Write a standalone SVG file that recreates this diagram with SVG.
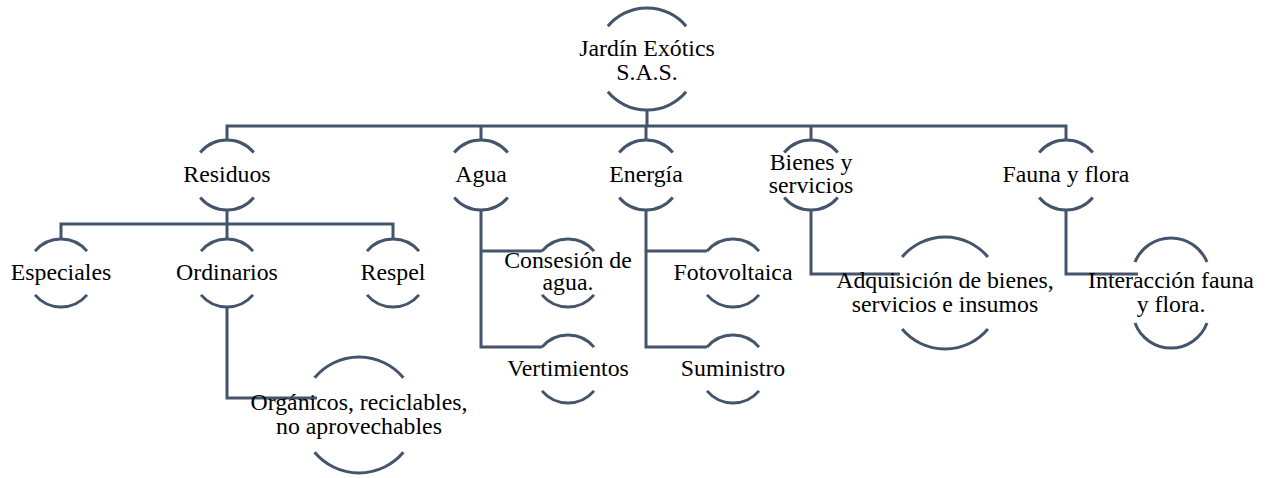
<svg xmlns="http://www.w3.org/2000/svg" width="1267" height="478" viewBox="0 0 1267 478">
<style>
.c{fill:none;stroke:#44546A;stroke-width:3;stroke-linejoin:miter;stroke-linecap:butt}
.a{fill:none;stroke:#44546A;stroke-width:3;stroke-linecap:butt}
.t{font-family:"Liberation Serif",Tinos,"Times New Roman",Times,"DejaVu Serif","Noto Serif",serif;font-size:23.8px;fill:#000;text-anchor:middle}
</style>
<rect width="1267" height="478" fill="#fff"/>
<g id="connectors">
<path class="c" d="M647 110V126M227 140V126H1066V140M481 126V140M646 126V140M811 126V140"/>
<path class="c" d="M227 210V224M61 239V224H393V239M227 224V239"/>
<path class="c" d="M227 307V398H317"/>
<path class="c" d="M481 210V347H542M481 251H542"/>
<path class="c" d="M646 210V347H707M646 251H707"/>
<path class="c" d="M811 210V274H900"/>
<path class="c" d="M1066 210V274H1138"/>
</g>
<g id="root">
<path class="a" d="M607.9 26.2A51 51 0 0 1 686.1 26.2M607.9 91.8A51 51 0 0 0 686.1 91.8"/>
<text class="t" x="647" y="56">Jardín Exótics</text>
<text class="t" x="647" y="80">S.A.S.</text>
</g>
<g id="residuos">
<path class="a" d="M200.2 152.5A35 35 0 0 1 253.8 152.5M200.2 197.5A35 35 0 0 0 253.8 197.5"/>
<text class="t" x="227" y="182">Residuos</text>
</g>
<g id="agua">
<path class="a" d="M454.2 152.5A35 35 0 0 1 507.8 152.5M454.2 197.5A35 35 0 0 0 507.8 197.5"/>
<text class="t" x="481" y="182">Agua</text>
</g>
<g id="energia">
<path class="a" d="M619.2 152.5A35 35 0 0 1 672.8 152.5M619.2 197.5A35 35 0 0 0 672.8 197.5"/>
<text class="t" x="646" y="182">Energía</text>
</g>
<g id="bienes">
<path class="a" d="M784.2 152.5A35 35 0 0 1 837.8 152.5M784.2 197.5A35 35 0 0 0 837.8 197.5"/>
<text class="t" x="811" y="170">Bienes y</text>
<text class="t" x="811" y="193">servicios</text>
</g>
<g id="fauna">
<path class="a" d="M1039.2 152.5A35 35 0 0 1 1092.8 152.5M1039.2 197.5A35 35 0 0 0 1092.8 197.5"/>
<text class="t" x="1066" y="182">Fauna y flora</text>
</g>
<g id="especiales">
<path class="a" d="M35 251.1A34 34 0 0 1 87 251.1M35 294.9A34 34 0 0 0 87 294.9"/>
<text class="t" x="61" y="280">Especiales</text>
</g>
<g id="ordinarios">
<path class="a" d="M201 251.1A34 34 0 0 1 253 251.1M201 294.9A34 34 0 0 0 253 294.9"/>
<text class="t" x="227" y="280">Ordinarios</text>
</g>
<g id="respel">
<path class="a" d="M367 251.1A34 34 0 0 1 419 251.1M367 294.9A34 34 0 0 0 419 294.9"/>
<text class="t" x="393" y="280">Respel</text>
</g>
<g id="organicos">
<path class="a" d="M314.6 377.7A58 58 0 0 1 403.4 377.7M314.6 452.3A58 58 0 0 0 403.4 452.3"/>
<text class="t" x="359" y="410">Orgánicos, reciclables,</text>
<text class="t" x="359" y="434">no aprovechables</text>
</g>
<g id="consesion">
<path class="a" d="M542 251.1A34 34 0 0 1 594 251.1M542 294.9A34 34 0 0 0 594 294.9"/>
<text class="t" x="568" y="268">Consesión de</text>
<text class="t" x="568" y="290">agua.</text>
</g>
<g id="vertimientos">
<path class="a" d="M542 347.1A34 34 0 0 1 594 347.1M542 390.9A34 34 0 0 0 594 390.9"/>
<text class="t" x="568" y="376">Vertimientos</text>
</g>
<g id="fotovoltaica">
<path class="a" d="M707 251.1A34 34 0 0 1 759 251.1M707 294.9A34 34 0 0 0 759 294.9"/>
<text class="t" x="733" y="280">Fotovoltaica</text>
</g>
<g id="suministro">
<path class="a" d="M707 347.1A34 34 0 0 1 759 347.1M707 390.9A34 34 0 0 0 759 390.9"/>
<text class="t" x="733" y="376">Suministro</text>
</g>
<g id="adquisicion">
<path class="a" d="M902.1 257A56 56 0 0 1 987.9 257M902.1 329A56 56 0 0 0 987.9 329"/>
<text class="t" x="945" y="288">Adquisición de bienes,</text>
<text class="t" x="945" y="312">servicios e insumos</text>
</g>
<g id="interaccion">
<path class="a" d="M1135 262A39 39 0 0 1 1207 262M1135 323A38.4 38.4 0 0 0 1207 323"/>
<text class="t" x="1171" y="288">Interacción fauna</text>
<text class="t" x="1171" y="312">y flora.</text>
</g>
</svg>
